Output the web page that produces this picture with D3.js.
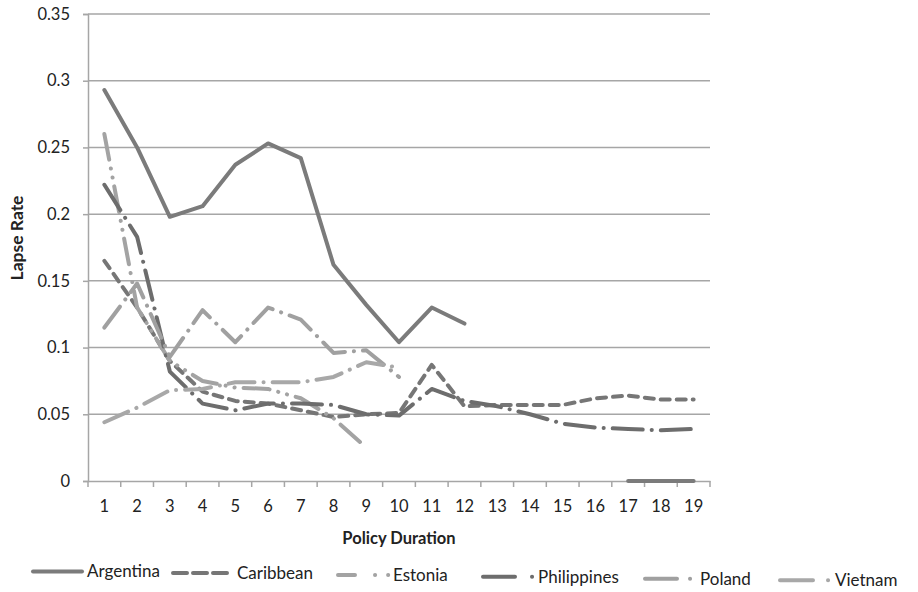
<!DOCTYPE html>
<html>
<head>
<script src="https://cdn.jsdelivr.net/npm/d3@7"></script>
<style>
  body { margin: 0; background: #fff; }
  text { font-family: Lato, "Open Sans", sans-serif; fill: #222; }
  .grid line { stroke: #a6a6a6; stroke-width: 1.5px; }
  .series { fill: none; stroke-width: 4px; stroke-linecap: round; stroke-linejoin: round; }
</style>
</head>
<body>
<script>

var durations = d3.range(1, 20);
var yTicks = [0, 0.05, 0.1, 0.15, 0.2, 0.25, 0.3, 0.35];

var argentina   = [0.293, 0.250, 0.198, 0.206, 0.237, 0.253, 0.242, 0.162, 0.132, 0.104, 0.130, 0.118, null, null, null, null, 0, 0, 0];
var caribbean   = [0.165, 0.130, 0.090, 0.067, 0.060, 0.058, 0.053, 0.048, 0.050, 0.051, 0.087, 0.056, 0.057, 0.057, 0.057, 0.062, 0.064, 0.061, 0.061];
var estonia     = [0.260, 0.130, 0.090, 0.075, 0.070, 0.069, 0.062, 0.047, 0.025];
var philippines = [0.222, 0.183, 0.082, 0.058, 0.053, 0.058, 0.058, 0.057, 0.050, 0.049, 0.069, 0.060, 0.056, 0.050, 0.043, 0.040, 0.039, 0.038, 0.039];
var poland      = [0.115, 0.148, 0.093, 0.128, 0.104, 0.130, 0.121, 0.096, 0.098, 0.078];
var vietnam     = [0.044, 0.055, 0.068, 0.069, 0.074, 0.074, 0.074, 0.078, 0.089, 0.085];

var series = [
  { name: "Argentina",   values: argentina,   color: "#7b7b7b", dash: null,               legendDash: null },
  { name: "Caribbean",   values: caribbean,   color: "#767676", dash: "9,7",              legendDash: "14,6" },
  { name: "Estonia",     values: estonia,     color: "#a3a3a3", dash: "26,9,0.1,9,0.1,9", legendDash: "17,20,0.1,13,0.1,20" },
  { name: "Philippines", values: philippines, color: "#6d6d6d", dash: "30,9,0.1,9",       legendDash: "32,17,0.1,20" },
  { name: "Poland",      values: poland,      color: "#a0a0a0", dash: "26,9,0.1,9",       legendDash: "32,13,0.1,20" },
  { name: "Vietnam",     values: vietnam,     color: "#a8a8a8", dash: "26,9,0.1,9",       legendDash: "33,15,0.1,20" }
];

var width = 918, height = 592;
var margin = { left: 88, right: 208, top: 14, bottom: 111 };

var svg = d3.select("body").append("svg")
  .attr("width", width)
  .attr("height", height);

var x = d3.scaleBand()
  .domain(durations)
  .range([margin.left, width - margin.right]);

var y = d3.scaleLinear()
  .domain([0, 0.35])
  .range([height - margin.bottom, margin.top]);

// gridlines
svg.append("g").attr("class", "grid")
  .selectAll("line")
  .data(yTicks.filter(function(d) { return d > 0; }))
  .enter().append("line")
  .attr("x1", margin.left)
  .attr("x2", width - margin.right)
  .attr("y1", function(d) { return y(d); })
  .attr("y2", function(d) { return y(d); });

// y axis
var yAxis = svg.append("g")
  .attr("transform", "translate(" + margin.left + ",0)")
  .call(d3.axisLeft(y).tickValues(yTicks).tickSize(5).tickPadding(13)
    .tickFormat(function(d) { return d === 0 ? "0" : String(+d.toFixed(2)); }));
yAxis.select(".domain").attr("stroke", "#a6a6a6").attr("stroke-width", 1.5);
yAxis.selectAll(".tick line").attr("stroke", "#a6a6a6").attr("stroke-width", 1.5);
yAxis.selectAll("text").attr("font-size", 16.5).attr("font-family", "Lato, sans-serif").attr("fill", "#222");

// x axis
var xAxis = svg.append("g")
  .attr("transform", "translate(0," + (height - margin.bottom) + ")")
  .call(d3.axisBottom(x).tickSize(0).tickPadding(19));
xAxis.select(".domain").attr("stroke", "#a6a6a6").attr("stroke-width", 1.5);
xAxis.selectAll("text").attr("font-size", 16.5).attr("font-family", "Lato, sans-serif").attr("fill", "#222");

// x ticks at band boundaries
svg.append("g").selectAll("line")
  .data(durations.concat([20]))
  .enter().append("line")
  .attr("x1", function(d) { return d === 20 ? x(19) + x.bandwidth() : x(d); })
  .attr("x2", function(d) { return d === 20 ? x(19) + x.bandwidth() : x(d); })
  .attr("y1", height - margin.bottom)
  .attr("y2", height - margin.bottom + 6)
  .attr("stroke", "#a6a6a6")
  .attr("stroke-width", 1.5);

// axis titles
svg.append("text")
  .attr("x", (margin.left + width - margin.right) / 2)
  .attr("y", 544)
  .attr("text-anchor", "middle")
  .attr("font-size", 16.5)
  .attr("font-weight", "bold")
  .text("Policy Duration");

svg.append("text")
  .attr("transform", "translate(23,238) rotate(-90)")
  .attr("text-anchor", "middle")
  .attr("font-size", 17.5)
  .attr("font-weight", "bold")
  .text("Lapse Rate");

// lines
var cx = function(i) { return x(durations[i]) + x.bandwidth() / 2; };

var line = d3.line()
  .defined(function(v) { return v !== null; })
  .x(function(v, i) { return cx(i); })
  .y(function(v) { return y(v); });

svg.append("g").selectAll("path")
  .data(series)
  .enter().append("path")
  .attr("class", "series")
  .attr("stroke", function(s) { return s.color; })
  .attr("stroke-dasharray", function(s) { return s.dash; })
  .attr("d", function(s) { return line(s.values); });

// legend
var legendX = [33, 173, 338, 483, 645, 780];
var legendW = [49, 55, 50.2, 49.2, 45.2, 48.2];
var textDx  = [54, 64, 55, 55, 55, 55];

var legend = svg.append("g").selectAll("g")
  .data(series)
  .enter().append("g")
  .attr("transform", function(s, i) { return "translate(" + legendX[i] + "," + (571 + legendX[i] * 0.012) + ")"; });

legend.append("line")
  .attr("class", "series")
  .attr("x1", 0)
  .attr("x2", function(s, i) { return legendW[i]; })
  .attr("y1", 0)
  .attr("y2", 0)
  .attr("stroke", function(s) { return s.color; })
  .attr("stroke-dasharray", function(s) { return s.legendDash; });

legend.append("text")
  .attr("x", function(s, i) { return textDx[i]; })
  .attr("y", 6)
  .attr("font-size", 17)
  .text(function(s) { return s.name; });

</script>
</body>
</html>
